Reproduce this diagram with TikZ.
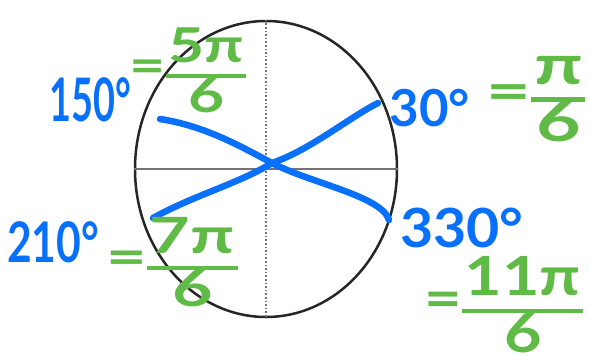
\documentclass[tikz,border=0pt]{standalone}
\usepackage{fontspec}
\setmainfont{Lato}
\usetikzlibrary{shapes.geometric}

\definecolor{penblue}{RGB}{8,112,250}
\definecolor{pengreen}{RGB}{96,186,70}

% handwritten fraction: numerator over a thick bar over denominator
\newcommand{\handfrac}[2]{{\renewcommand{\arraystretch}{0.8}\setlength{\arrayrulewidth}{4.5pt}%
  \begin{tabular}{@{\hspace{2pt}}c@{\hspace{2pt}}}#1\\\hline #2\end{tabular}}}
\newcommand{\handsize}[1]{\fontsize{#1}{#1}\selectfont\bfseries}

\begin{document}
\begin{tikzpicture}[
    x=1pt, y=-1pt,
    % Styles
    unit/.style={ellipse, draw=black!85, line width=2.5pt, minimum width=262pt, minimum height=296pt, inner sep=0pt},
    axis/.style={draw=black!55, line width=1.6pt},
    ray/.style={draw=penblue, line width=6.5pt, line cap=round, line join=round},
    degree/.style={text=penblue, inner sep=0pt},
    radian/.style={text=pengreen, inner sep=0pt}
]
\useasboundingbox (0,0) rectangle (589,364);

% --- Unit circle and axes ---
\node[unit] (circle) at (266,169) {};
\draw[axis] (circle.west) -- (circle.east);
\draw[axis, dotted, line width=2pt] (circle.north) -- (circle.south);

% --- Rays through the origin ---
\coordinate (cross) at (272,163);
\coordinate (p150) at (160,119);
\coordinate (p330) at (389,220);
\coordinate (p210) at (153,218);
\coordinate (p30) at (378,103);

\draw[ray] (p150) .. controls (205,126) and (240,146) .. (cross)
                  .. controls (310,183) and (382,196) .. (p330);
\draw[ray] (p210) .. controls (192,196) and (240,183) .. (cross)
                  .. controls (310,150) and (350,117) .. (p30);

% --- Degree labels ---
\node[degree, font=\handsize{60}] (deg_150) at (90,100) {\scalebox{0.63}[1]{150°}};
\node[degree, font=\handsize{51}] (deg_30) at (430,108) {30°};
\node[degree, font=\handsize{56}] (deg_210) at (53,242) {\scalebox{0.76}[1]{210°}};
\node[degree, font=\handsize{54}] (deg_330) at (462,228) {\scalebox{1.06}[1]{330°}};

% --- Radian labels ---
\node[radian, font=\handsize{48}] (rad_150) at (188,76) {\scalebox{1.3}[1]{=\handfrac{5π}{6}}};
\node[radian, font=\handsize{55}] (rad_30) at (536,104) {\scalebox{1.4}[1]{=\handfrac{π}{6}}};
\node[radian, font=\handsize{50}] (rad_210) at (172,268) {\scalebox{1.4}[1]{=\handfrac{7π}{6}}};
\node[radian, font=\handsize{54}] (rad_330) at (504,311) {\scalebox{1.2}[1]{=\handfrac{11π}{6}}};

\end{tikzpicture}
\end{document}
